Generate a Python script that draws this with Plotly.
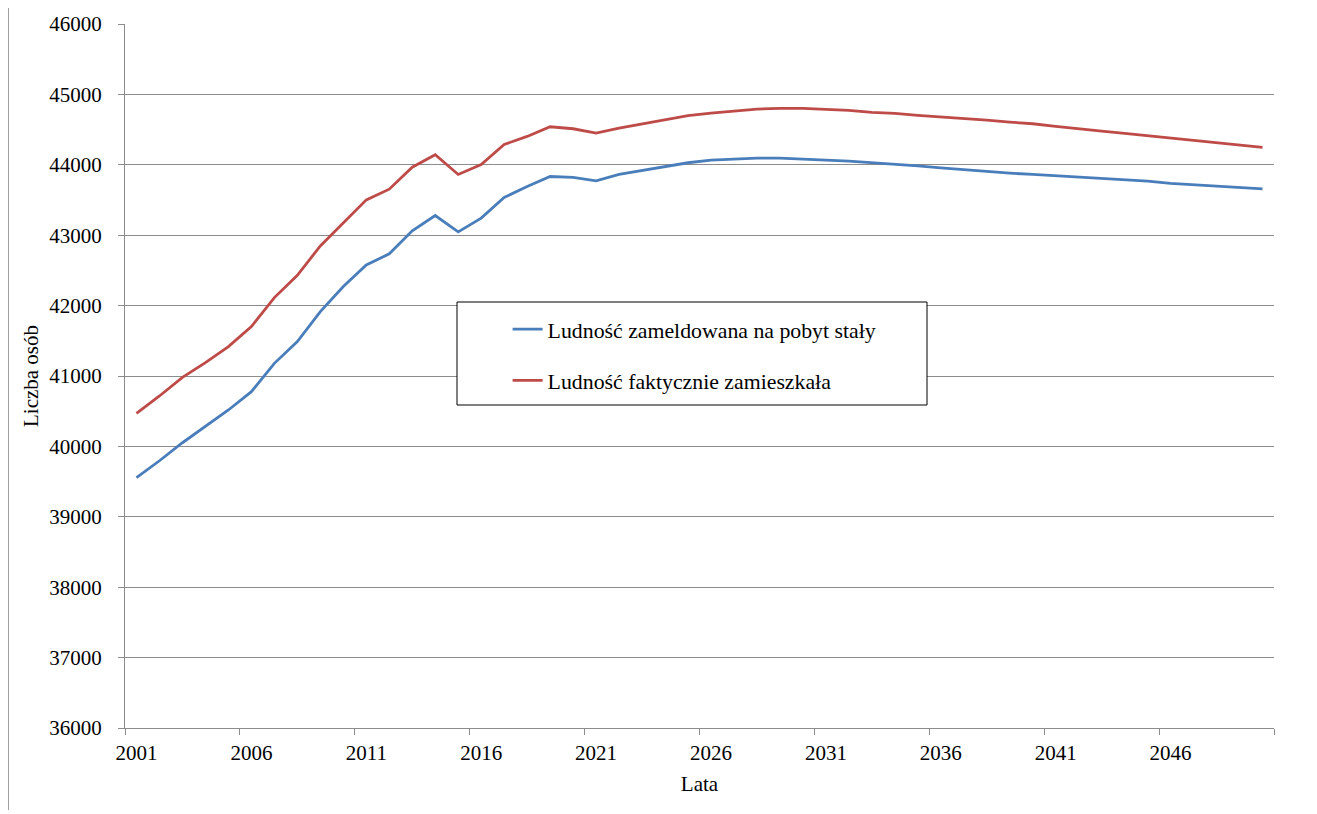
import plotly.graph_objects as go

years = list(range(2001, 2051))

zameldowana = [
    39555, 39796, 40052, 40280, 40517, 40777, 41180, 41488, 41915, 42270,
    42578, 42735, 43062, 43280, 43047, 43242, 43536, 43692, 43834, 43820,
    43773, 43863, 43920, 43981, 44029, 44066, 44085, 44095, 44095, 44085,
    44066, 44052, 44033, 44005, 43986, 43957, 43929, 43910, 43882, 43863,
    43844, 43820, 43801, 43787, 43768, 43735, 43716, 43697, 43682, 43659,
]

faktycznie = [
    40469, 40716, 40981, 41190, 41417, 41701, 42114, 42431, 42848, 43180,
    43502, 43654, 43965, 44142, 43863, 44005, 44289, 44403, 44540, 44512,
    44450, 44521, 44583, 44645, 44697, 44735, 44763, 44791, 44801, 44801,
    44787, 44773, 44744, 44730, 44701, 44682, 44659, 44635, 44607, 44583,
    44545, 44507, 44479, 44445, 44412, 44379, 44346, 44318, 44284, 44246,
]

series_names = ["Ludność zameldowana na pobyt stały", "Ludność faktycznie zamieszkała"]
series_colors = ["#4A7EBB", "#BE4B48"]

label_years = [2001, 2006, 2011, 2016, 2021, 2026, 2031, 2036, 2041, 2046]
y_ticks = list(range(36000, 46001, 1000))

FONT = "Liberation Serif, Times New Roman, serif"
GRID = "#8C8C8C"

# page has an 8px body margin, so the figure is offset by 8px
W, H = 1309, 806
L, T = 117, 16
PW, PH = 1149, 704

fig = go.Figure()
for i, (vals, name, col) in enumerate(zip([zameldowana, faktycznie], series_names, series_colors)):
    fig.add_trace(go.Scatter(
        x=years, y=vals, mode="lines", name=name,
        line=dict(color=col, width=2.8),
        legendgroup=f"g{i}",
    ))

def px(x):
    return (x - 8 - L) / PW

def py(y):
    return (T + PH - (y - 8)) / PH

fig.update_layout(
    width=W, height=H,
    margin=dict(l=L, r=W - L - PW, t=T, b=H - T - PH, autoexpand=False),
    paper_bgcolor="white", plot_bgcolor="white",
    font=dict(family=FONT, size=21, color="black"),
    showlegend=True,
    legend=dict(
        x=0.333, y=0.596, xanchor="left", yanchor="top",
        bgcolor="rgba(0,0,0,0)", borderwidth=0,
        font=dict(family=FONT, size=21.8, color="black"),
        tracegroupgap=20,
    ),
    xaxis=dict(
        range=[2000.5, 2050.5],
        tickmode="array", tickvals=label_years, ticktext=[str(v) for v in label_years],
        ticks="", showgrid=False, zeroline=False,
        showline=True, linecolor=GRID, linewidth=1,
        ticklabelstandoff=6,
        minor=dict(tick0=2000.5, dtick=5, ticks="outside", ticklen=6, tickcolor=GRID, showgrid=False),
        title=dict(text="Lata", standoff=12, font=dict(family=FONT, size=21)),
        automargin=False,
    ),
    yaxis=dict(
        range=[36000, 46000],
        tickmode="array", tickvals=y_ticks, ticktext=[str(v) for v in y_ticks],
        ticks="outside", ticklen=6, tickcolor=GRID,
        showgrid=True, gridcolor=GRID, gridwidth=1, zeroline=False,
        showline=True, linecolor=GRID, linewidth=1,
        ticklabelstandoff=12,
        title=dict(text="Liczba osób", standoff=4, font=dict(family=FONT, size=21)),
        automargin=False,
    ),
    shapes=[
        dict(type="rect", xref="paper", yref="paper",
             x0=px(457), x1=px(927), y0=py(405), y1=py(302),
             line=dict(color="black", width=1), fillcolor="white", layer="above"),
        dict(type="line", xref="paper", yref="paper",
             x0=px(8.5), x1=px(8.5), y0=py(810), y1=py(8),
             line=dict(color="#A0A0A0", width=1)),
    ],
)

fig.write_html("out.html")
